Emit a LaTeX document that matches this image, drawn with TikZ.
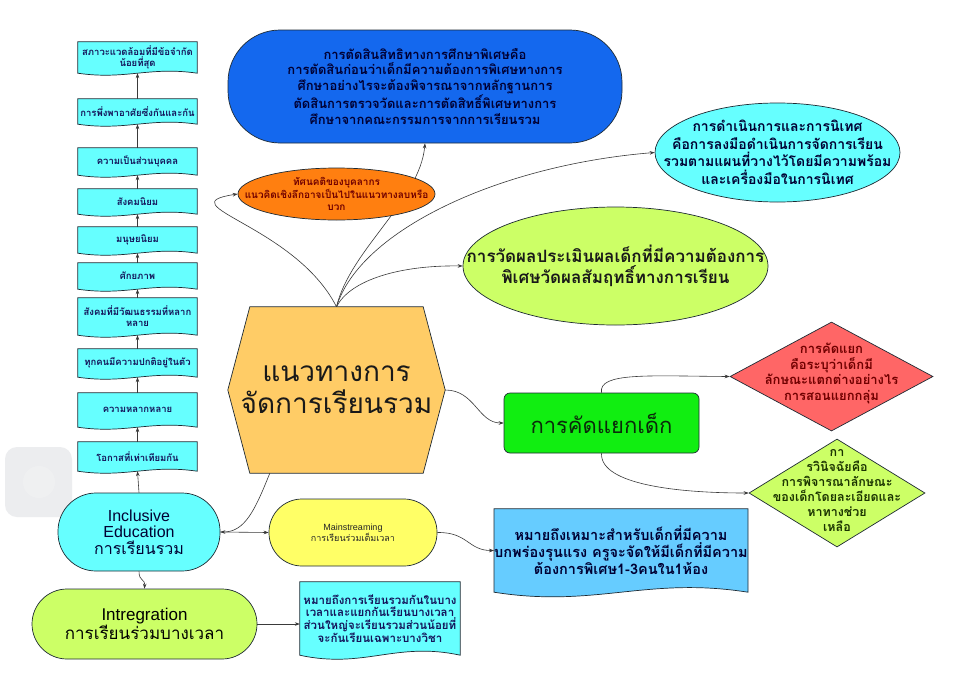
\documentclass[tikz,border=0pt]{standalone}
\usepackage{fontspec}
\setmainfont{Loma}[Script=Thai]
\newfontfamily\lat{Liberation Sans}
\usetikzlibrary{shapes.geometric,arrows.meta,calc}
\pgfdeclarelayer{bg}\pgfdeclarelayer{edges}\pgfsetlayers{bg,edges,main}
\definecolor{edgecol}{HTML}{1E2A33}
\definecolor{linecol}{HTML}{3A3A3A}
\definecolor{cyanfill}{HTML}{66FFFF}
\definecolor{bluefill}{HTML}{1468EE}
\definecolor{orangefill}{HTML}{FF7F10}
\definecolor{limefill}{HTML}{CCFF66}
\definecolor{hexfill}{HTML}{FFCC66}
\definecolor{greenfill}{HTML}{11EE11}
\definecolor{redfill}{HTML}{FF6666}
\definecolor{skyfill}{HTML}{66CCFF}
\definecolor{yellowfill}{HTML}{FFFF66}
\definecolor{navytext}{HTML}{14145A}
\definecolor{darktext}{HTML}{000033}
\definecolor{redtext}{HTML}{700000}
\definecolor{olivetext}{HTML}{1A3300}
\definecolor{greentext}{HTML}{0A2A0A}
\definecolor{graybox}{HTML}{ECEDEF}
\newcommand\docshape[3]{%
  \draw[fill=#2, draw=edgecol, line width=0.7pt] (#1.north west) -- (#1.north east) -- (#1.south east)
   .. controls ($(#1.south west)!0.6!(#1.south east)+(0,-2*#3)$) and ($(#1.south west)!0.4!(#1.south east)+(0,2*#3)$) .. (#1.south west) -- cycle;}
\tikzset{
  edge/.style={draw=linecol, line width=0.6pt, -{Stealth[length=5pt,width=3.6pt]}},
  lbox/.style={minimum width=119pt, inner sep=0pt, align=center, text=navytext,
    font=\bfseries\fontsize{9.5}{11}\selectfont},
  shapeonly/.style={draw=edgecol, line width=0.7pt, inner sep=0pt},
  txt/.style={align=center, inner sep=0pt},
}
\begin{document}
\begin{tikzpicture}[x=1pt,y=-1pt]
\useasboundingbox (0,0) rectangle (960,696);
\begin{pgfonlayer}{bg}
\fill[white] (0,0) rectangle (960,696);
\fill[graybox, rounded corners=12pt] (5,447) rectangle (72,517);
\fill[white, opacity=0.18] (39,482) circle (16);
\end{pgfonlayer}

% left column
\node[lbox, minimum height=31pt] (b1) at (137.5,57.5) {สภาวะแวดล้อมที่มีข้อจำกัด\\น้อยที่สุด};
\node[lbox, minimum height=25pt] (b2) at (137.5,111.5) {การพึ่งพาอาศัยซึ่งกันและกัน};
\node[lbox, minimum height=27pt] (b3) at (137.5,161.5) {ความเป็นส่วนบุคคล};
\node[lbox, minimum height=25pt] (b4) at (137.5,201.5) {สังคมนิยม};
\node[lbox, minimum height=26pt] (b5) at (137.5,240) {มนุษยนิยม};
\node[lbox, minimum height=26pt] (b6) at (137.5,276) {ศักยภาพ};
\node[lbox, minimum height=37pt] (b7) at (137.5,316.5) {สังคมที่มีวัฒนธรรมที่หลาก\\หลาย};
\node[lbox, minimum height=28pt] (b8) at (137.5,363) {ทุกคนมีความปกติอยู่ในตัว};
\node[lbox, minimum height=34pt] (b9) at (137.5,410) {ความหลากหลาย};
\node[lbox, minimum height=29pt] (b10) at (137.5,456.5) {โอกาสที่เท่าเทียมกัน};
\begin{pgfonlayer}{bg}
\foreach \n in {b1,b2,b3,b4,b5,b6,b7,b8,b9,b10} {\docshape{\n}{cyanfill}{3.5}}
\end{pgfonlayer}

% stadiums and boxes
\node[shapeonly, fill=cyanfill, rounded corners=38pt, minimum width=162pt, minimum height=78pt, align=center,
  font=\lat\fontsize{16}{16.5}\selectfont, text=darktext] (incl) at (139,532)
  {Inclusive\\Education\\{\rmfamily การเรียนรวม}};
\node[shapeonly, fill=limefill, rounded corners=35pt, minimum width=225pt, minimum height=70pt, align=center,
  font=\lat\fontsize{17}{19}\selectfont, text=black] (integ) at (144.5,624)
  {Intregration\\{\rmfamily การเรียนร่วมบางเวลา}};
\node[shapeonly, fill=yellowfill, rounded corners=33pt, minimum width=168pt, minimum height=67pt, align=center,
  font=\lat\fontsize{9}{10}\selectfont, text=black!85] (mains) at (353,532.5)
  {Mainstreaming\\{\rmfamily การเรียนร่วมเต็มเวลา}};
\node[shapeonly, fill=bluefill, rounded corners=52pt, minimum width=394pt, minimum height=113pt, align=center,
  font=\bfseries\fontsize{13}{15.8}\selectfont, text=darktext] (top) at (425,86.5)
  {การตัดสินสิทธิทางการศึกษาพิเศษคือ\\การตัดสินก่อนว่าเด็กมีความต้องการพิเศษทางการ\\ศึกษาอย่างไรจะต้องพิจารณาจากหลักฐานการ\\ตัดสินการตรวจวัดและการตัดสิทธิ์พิเศษทางการ\\ศึกษาจากคณะกรรมการจากการเรียนรวม};
\node[shapeonly, fill=greenfill, rounded corners=6pt, minimum width=195pt, minimum height=60pt,
  font=\fontsize{22}{24}\selectfont, text=greentext] (sel) at (601.5,423) {การคัดแยกเด็ก};

% hexagon
\node[txt, minimum width=217pt, minimum height=166pt, font=\fontsize{28}{32}\selectfont, text=black!90] (hex) at (336.5,390)
  {แนวทางการ\\จัดการเรียนรวม};
\begin{pgfonlayer}{bg}
\draw[fill=hexfill, draw=edgecol, line width=0.7pt] (hex.west) -- ($(hex.north west)+(22,0)$) -- ($(hex.north east)+(-22,0)$)
  -- (hex.east) -- ($(hex.south east)+(-22,0)$) -- ($(hex.south west)+(22,0)$) -- cycle;
\end{pgfonlayer}

% document boxes
\node[txt, minimum width=160pt, minimum height=73pt, font=\bfseries\fontsize{11.5}{12.7}\selectfont, text=navytext] (cdoc) at (380,618.5)
  {หมายถึงการเรียนรวมกันในบาง\\เวลาและแยกกันเรียนบางเวลา\\ส่วนใหญ่จะเรียนรวมส่วนน้อยที่\\จะกันเรียนเฉพาะบางวิชา};
\node[txt, minimum width=252pt, minimum height=83pt, font=\bfseries\fontsize{14.5}{17}\selectfont, text=darktext] (bdoc) at (621,550.5)
  {หมายถึงเหมาะสำหรับเด็กที่มีความ\\บกพร่องรุนแรง ครูจะจัดให้มีเด็กที่มีความ\\ต้องการพิเศษ1-3คนใน1ห้อง};
\begin{pgfonlayer}{bg}
\docshape{cdoc}{cyanfill}{7}
\docshape{bdoc}{skyfill}{8}
\end{pgfonlayer}

% ellipses and diamonds (shape then text)
\node[shapeonly, ellipse, fill=orangefill, minimum width=197pt, minimum height=52pt] (orE) at (336.5,194) {};
\node[txt, font=\bfseries\fontsize{10}{11.5}\selectfont, text=redtext] (orEt) at (orE)
  {ทัศนคติของบุคลากร\\แนวคิดเชิงลึกอาจเป็นไปในแนวทางลบหรือ\\บวก};
\node[shapeonly, ellipse, fill=cyanfill, minimum width=245pt, minimum height=99pt] (cyE) at (777.5,152.5) {};
\node[txt, font=\bfseries\fontsize{14}{17.5}\selectfont, text=darktext] (cyEt) at (cyE)
  {การดำเนินการและการนิเทศ\\คือการลงมือดำเนินการจัดการเรียน\\รวมตามแผนที่วางไว้โดยมีความพร้อม\\และเครื่องมือในการนิเทศ};
\node[shapeonly, ellipse, fill=limefill, minimum width=305pt, minimum height=118pt] (grE) at (615.5,266) {};
\node[txt, font=\bfseries\fontsize{17}{21}\selectfont, text=black!90] (grEt) at (grE)
  {การวัดผลประเมินผลเด็กที่มีความต้องการ\\พิเศษวัดผลสัมฤทธิ์ทางการเรียน};
\node[shapeonly, diamond, fill=redfill, minimum width=203pt, minimum height=109pt] (red) at (831.5,376.5) {};
\node[txt, font=\bfseries\fontsize{13}{15.5}\selectfont, text=redtext] (redt) at ($(red)+(0,-3)$)
  {การคัดแยก\\คือระบุว่าเด็กมี\\ลักษณะแตกต่างอย่างไร\\การสอนแยกกลุ่ม};
\node[shapeonly, diamond, fill=limefill, minimum width=176pt, minimum height=108pt] (lime) at (837,493) {};
\node[txt, font=\bfseries\fontsize{12.5}{15}\selectfont, text=olivetext] (limet) at ($(lime)+(0,-2)$)
  {กา\\รวินิจฉัยคือ\\การพิจารณาลักษณะ\\ของเด็กโดยละเอียดและ\\หาทางช่วย\\เหลือ};

% connectors
\begin{pgfonlayer}{edges}
\foreach \a/\b in {b2/b1,b3/b2,b4/b3,b5/b4,b6/b5,b7/b6,b8/b7,b9/b8,b10/b9} {\draw[edge] (\a.north) -- (\b.south);}
\draw[edge] (incl.north) -- (b10.south);
\draw[edge] (hex.north) .. controls (295,225) and (165,205) .. (orE.west);
\draw[edge] (hex.north) .. controls (350,250) and (420,200) .. (top.south);
\draw[edge] (hex.north) .. controls (360,230) and (500,165) .. (cyE.west);
\draw[edge] (hex.north) .. controls (350,280) and (400,265) .. (grE.west);
\draw[edge] (hex.east) .. controls (475,390) and (478,423) .. (sel.west);
\draw[edge] (sel.north) .. controls (598,372) and (650,376) .. (red.west);
\draw[edge] (sel.south) .. controls (600,485) and (680,493) .. (lime.west);
\draw[edge] ($(hex.south west)+(42,0)$) .. controls (255,510) and (245,532) .. (incl.east);
\draw[edge] (incl.east) -- (mains.west);
\draw[edge] (mains.east) .. controls (468,532) and (468,550.5) .. (bdoc.west);
\draw[edge] (incl.south) .. controls (139,582) and (145,578) .. (integ.north);
\draw[edge] (integ.east) -- (integ.east -| cdoc.west);
\end{pgfonlayer}
\end{tikzpicture}
\end{document}
